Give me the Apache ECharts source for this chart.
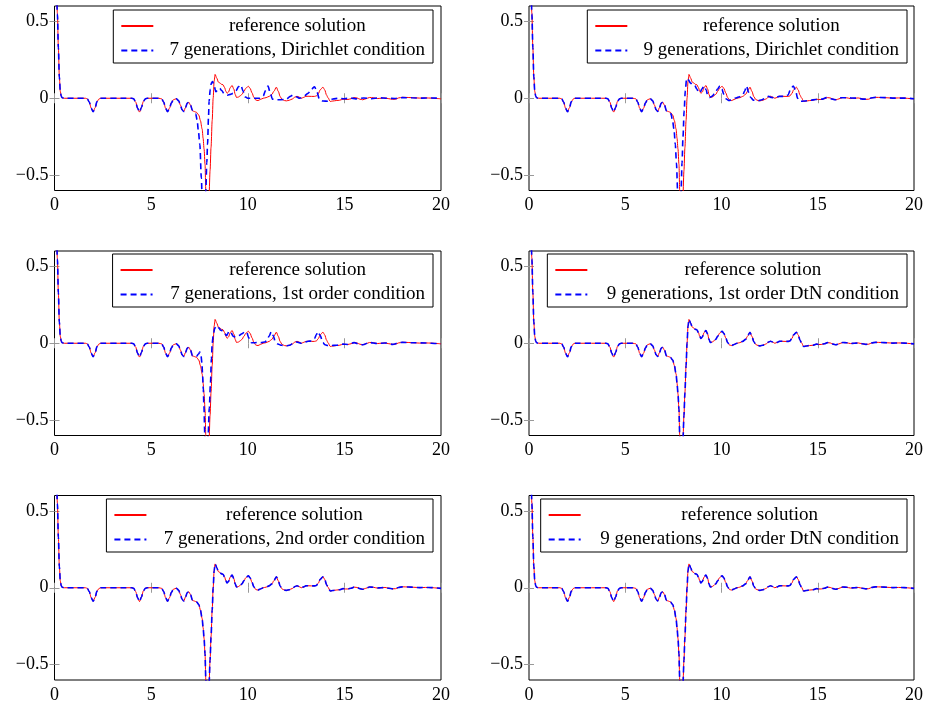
<!DOCTYPE html>
<html>
<head>
<meta charset="utf-8">
<script src="https://cdn.jsdelivr.net/npm/echarts@6/dist/echarts.min.js"></script>
<style>html,body{margin:0;padding:0;background:#fff}#c{width:926px;height:704px}</style>
</head>
<body>
<div id="c"></div>
<script>
// ---------- data ----------
const xTicks = [0, 5, 10, 15, 20];
const yTicks = [-0.5, 0, 0.5];

// shared part of all curves (x < 7)
const commonStart = [
  [0,1.2],[0.05,0.95],[0.1,0.72],[0.15,0.55],[0.2,0.33],[0.25,0.14],[0.3,0.045],[0.35,0.012],[0.4,0.003],[0.5,0],
  [1.0,0],[1.6,0],[1.7,-0.004],[1.8,-0.025],[1.9,-0.065],[2.0,-0.088],[2.1,-0.062],[2.2,-0.022],[2.3,-0.005],[2.4,0],
  [3.5,0],[4.0,0],[4.1,-0.004],[4.2,-0.025],[4.3,-0.065],[4.4,-0.09],[4.5,-0.06],[4.6,-0.02],[4.7,-0.004],[4.8,0],
  [5.4,0],[5.55,-0.004],[5.65,-0.025],[5.75,-0.065],[5.85,-0.088],[5.95,-0.065],[6.05,-0.03],[6.15,-0.01],[6.3,-0.003],
  [6.42,-0.015],[6.52,-0.045],[6.6,-0.075],[6.69,-0.086],[6.78,-0.06],[6.87,-0.032],[6.95,-0.026]
];

const referenceTail = [
  [7.04,-0.045],[7.14,-0.082],[7.25,-0.087],[7.35,-0.092],[7.47,-0.11],[7.55,-0.145],[7.64,-0.2],[7.69,-0.26],
  [7.74,-0.33],[7.79,-0.43],[7.83,-0.6],[7.88,-0.9],[7.93,-1.0],[7.97,-0.8],[8.0,-0.62],[8.05,-0.47],[8.1,-0.32],
  [8.16,-0.145],[8.21,0.0],[8.26,0.11],[8.31,0.155],[8.4,0.13],[8.48,0.105],[8.55,0.1],[8.65,0.09],[8.72,0.088],
  [8.8,0.07],[8.87,0.045],[8.93,0.032],[9.0,0.04],[9.1,0.07],[9.19,0.083],[9.28,0.06],[9.35,0.025],[9.42,0.005],
  [9.52,0.008],[9.6,0.015],[9.7,0.025],[9.8,0.045],[9.9,0.065],[10.03,0.078],[10.12,0.065],[10.22,0.035],
  [10.32,0.005],[10.42,-0.012],[10.53,-0.015],[10.65,-0.008],[10.8,0.0],[10.95,0.004],[11.1,0.012],[11.25,0.025],
  [11.35,0.045],[11.48,0.072],[11.58,0.045],[11.68,0.01],[11.78,-0.008],[11.9,-0.015],[12.0,-0.017],[12.15,-0.013],
  [12.3,-0.005],[12.45,0.008],[12.55,0.013],[12.65,0.008],[12.77,0.0],[12.9,0.006],[13.0,0.012],[13.12,0.013],
  [13.3,0.012],[13.45,0.012],[13.55,0.015],[13.65,0.03],[13.75,0.055],[13.89,0.072],[13.98,0.055],[14.08,0.02],
  [14.15,0.004],[14.27,-0.021],[14.4,-0.018],[14.58,-0.015],[14.75,-0.013],[14.93,-0.006],[15.05,-0.008],
  [15.18,-0.008],[15.35,-0.003],[15.5,0.004],[15.65,0.002],[15.8,-0.006],[15.95,-0.01],[16.1,-0.004],[16.3,0.005],
  [16.5,0.003],[16.7,-0.002],[16.9,0.0],[17.1,0.002],[17.3,-0.003],[17.5,-0.007],[17.65,-0.006],[17.8,0.002],
  [18.0,0.006],[18.3,0.005],[18.6,0.003],[18.9,0.001],[19.2,0.002],[19.5,0.001],[19.8,-0.002],[20,-0.004]
];

const gen7DirichletTail = [
  [7.04,-0.045],[7.14,-0.08],[7.22,-0.09],[7.3,-0.1],[7.38,-0.14],[7.45,-0.22],[7.52,-0.3],[7.6,-0.52],[7.65,-0.7],
  [7.7,-0.85],[7.76,-0.75],[7.83,-0.6],[7.88,-0.42],[7.92,-0.3],[7.97,-0.12],[8.0,-0.02],[8.06,0.06],[8.12,0.1],
  [8.18,0.108],[8.26,0.08],[8.35,0.043],[8.45,0.055],[8.55,0.065],[8.65,0.05],[8.78,0.03],[8.95,0.02],[9.1,0.025],
  [9.24,0.032],[9.4,0.05],[9.52,0.075],[9.64,0.086],[9.75,0.05],[9.85,0.01],[10.0,0.0],[10.27,0.0],[10.62,0.0],
  [10.8,0.015],[10.92,0.05],[11.05,0.08],[11.15,0.04],[11.28,-0.006],[11.45,-0.01],[11.65,-0.01],[12.0,-0.006],
  [12.2,0.012],[12.34,0.021],[12.5,0.01],[12.69,0.0],[12.9,0.012],[13.12,0.032],[13.3,0.06],[13.46,0.075],
  [13.58,0.04],[13.72,-0.01],[13.9,-0.018],[14.15,-0.02],[14.4,-0.005],[14.7,0.0],[15.0,-0.003],[15.3,0.002],
  [15.6,-0.004],[16.0,0.002],[16.4,-0.003],[16.8,0.003],[17.2,0.0],[17.6,-0.002],[18.0,0.004],[18.5,0.003],
  [19.0,0.001],[19.5,0.002],[20,0.0]
];

const gen9DirichletTail = [
  [7.04,-0.045],[7.14,-0.082],[7.25,-0.088],[7.37,-0.1],[7.45,-0.14],[7.53,-0.2],[7.6,-0.3],[7.66,-0.42],[7.72,-0.6],
  [7.8,-0.95],[7.86,-0.8],[7.9,-0.6],[7.95,-0.42],[8.0,-0.25],[8.06,-0.08],[8.12,0.05],[8.19,0.13],[8.28,0.12],
  [8.38,0.1],[8.48,0.09],[8.6,0.085],[8.72,0.06],[8.8,0.04],[8.88,0.035],[8.98,0.06],[9.1,0.08],[9.2,0.055],
  [9.28,0.02],[9.38,0.005],[9.5,0.012],[9.65,0.03],[9.8,0.06],[9.92,0.08],[10.02,0.06],[10.12,0.025],[10.25,-0.005],
  [10.4,-0.015],[10.55,-0.008],[10.75,0.002],[10.95,0.01],[11.1,0.02],[11.2,0.045],[11.3,0.08],[11.4,0.04],
  [11.52,0.005],[11.65,-0.012],[11.9,-0.016],[12.1,-0.01],[12.3,0.005],[12.45,0.012],[12.6,0.005],[12.75,0.003],
  [13.0,0.012],[13.3,0.012],[13.45,0.02],[13.6,0.06],[13.73,0.08],[13.85,0.05],[13.95,0.0],[14.1,-0.02],
  [14.3,-0.018],[14.6,-0.013],[14.9,-0.008],[15.2,-0.006],[15.45,0.004],[15.7,-0.004],[15.9,-0.01],[16.2,0.003],
  [16.5,0.003],[17.0,0.001],[17.4,-0.006],[17.7,0.0],[18.0,0.006],[18.5,0.004],[19.0,0.001],[19.5,0.001],[20,-0.003]
];

const gen7FirstOrderTail = [
  [7.04,-0.045],[7.14,-0.082],[7.25,-0.087],[7.35,-0.085],[7.45,-0.07],[7.52,-0.058],[7.58,-0.08],[7.63,-0.13],
  [7.66,-0.2],[7.7,-0.3],[7.73,-0.4],[7.78,-0.6],[7.85,-0.95],[7.9,-0.8],[7.95,-0.6],[8.01,-0.42],[8.07,-0.26],
  [8.12,-0.1],[8.16,0.0],[8.22,0.06],[8.3,0.1],[8.41,0.115],[8.5,0.1],[8.6,0.085],[8.69,0.082],[8.8,0.065],
  [8.9,0.05],[8.96,0.06],[9.02,0.078],[9.12,0.07],[9.25,0.045],[9.4,0.04],[9.55,0.05],[9.7,0.062],[9.85,0.075],
  [9.95,0.07],[10.05,0.035],[10.19,0.003],[10.35,0.003],[10.53,0.006],[10.7,0.004],[10.88,0.008],[11.0,0.02],
  [11.1,0.045],[11.22,0.075],[11.32,0.05],[11.42,0.012],[11.52,-0.003],[11.7,-0.012],[11.83,-0.015],[12.0,-0.016],
  [12.17,-0.013],[12.35,0.0],[12.52,0.008],[12.65,0.004],[12.77,0.0],[12.95,0.008],[13.12,0.013],[13.3,0.015],
  [13.45,0.03],[13.55,0.055],[13.63,0.075],[13.75,0.05],[13.89,0.003],[14.0,-0.01],[14.15,-0.015],[14.3,-0.015],
  [14.6,-0.013],[14.93,-0.006],[15.18,-0.008],[15.5,0.004],[15.8,-0.006],[15.95,-0.01],[16.3,0.005],[16.7,-0.002],
  [17.1,0.002],[17.5,-0.007],[17.8,0.002],[18.0,0.006],[18.6,0.003],[19.2,0.002],[19.8,-0.002],[20,-0.004]
];

const reference = commonStart.concat(referenceTail);
const gen7Dirichlet = commonStart.concat(gen7DirichletTail);
const gen9Dirichlet = commonStart.concat(gen9DirichletTail);
const gen7FirstOrder = commonStart.concat(gen7FirstOrderTail);
// these three coincide with the reference curve in the picture
const gen9FirstOrderDtN = commonStart.concat(referenceTail);
const gen7SecondOrder = commonStart.concat(referenceTail);
const gen9SecondOrderDtN = commonStart.concat(referenceTail);

const refName = 'reference solution';
const panelNames = [
  '7 generations, Dirichlet condition',
  '9 generations, Dirichlet condition',
  '7 generations, 1st order condition',
  '9 generations, 1st order DtN condition',
  '7 generations, 2nd order condition',
  '9 generations, 2nd order DtN condition'
];
const panelData = [gen7Dirichlet, gen9Dirichlet, gen7FirstOrder, gen9FirstOrderDtN, gen7SecondOrder, gen9SecondOrderDtN];

// ---------- layout ----------
const FONT = 'Liberation Serif';
const FS = 18;
const LFS = 19;
const colLeft = [54.5, 529];
const rowTop = [6, 251, 495.5];
const gw = 386.5, gh = 184.5;
const legendRight = [493, 19];
const legendTop = [10, 254, 499];
const legendTextW = [278, 278, 280, 321, 286, 328];

const fmt = v => v === 0 ? '0' : (v < 0 ? '\u2212' + Math.abs(v) : String(v));

const grid = [], xAxis = [], yAxis = [], series = [], legend = [];
for (let i = 0; i < 6; i++) {
  const r = Math.floor(i / 2), c = i % 2;
  grid.push({left: colLeft[c], top: rowTop[r], width: gw, height: gh, show: true,
             borderColor: '#000', borderWidth: 1, backgroundColor: 'transparent'});
  const tick = {inside: true, length: 5, lineStyle: {color: '#999', width: 1}};
  xAxis.push({type: 'value', gridIndex: i, min: 0, max: 20, interval: 5, position: 'bottom',
    axisLine: {show: false}, splitLine: {show: false},
    axisTick: Object.assign({}, tick, {customValues: xTicks}),
    axisLabel: {customValues: xTicks, formatter: fmt, color: '#000', fontFamily: FONT, fontSize: FS, margin: 6}});
  xAxis.push({type: 'value', gridIndex: i, min: 0, max: 20, interval: 5, position: 'top',
    axisLine: {show: false}, splitLine: {show: false},
    axisTick: Object.assign({}, tick, {customValues: xTicks}), axisLabel: {show: false}});
  yAxis.push({type: 'value', gridIndex: i, min: -0.6, max: 0.6, position: 'left',
    axisLine: {show: false}, splitLine: {show: false},
    axisTick: Object.assign({}, tick, {customValues: yTicks}),
    axisLabel: {customValues: yTicks, formatter: fmt, color: '#000', fontFamily: FONT, fontSize: FS, margin: 6}});
  yAxis.push({type: 'value', gridIndex: i, min: -0.6, max: 0.6, position: 'right',
    axisLine: {show: false}, splitLine: {show: false},
    axisTick: Object.assign({}, tick, {customValues: yTicks}), axisLabel: {show: false}});

  series.push({type: 'line', name: refName, xAxisIndex: 2 * i, yAxisIndex: 2 * i, data: reference,
    symbol: 'none', smooth: 0.3, smoothMonotone: 'x', clip: true, silent: true, animation: false,
    lineStyle: {color: '#ff0000', width: 1}, itemStyle: {color: '#ff0000'}, z: 2});
  series.push({type: 'line', name: panelNames[i], xAxisIndex: 2 * i, yAxisIndex: 2 * i, data: panelData[i],
    symbol: 'none', smooth: 0.3, smoothMonotone: 'x', clip: true, silent: true, animation: false,
    lineStyle: {color: '#0000ff', width: 1.6, type: [6, 4]}, itemStyle: {color: '#0000ff'}, z: 3});

  legend.push({data: [refName, panelNames[i]], orient: 'vertical', right: legendRight[c], top: legendTop[r],
    backgroundColor: '#fff', borderColor: '#000', borderWidth: 1, borderRadius: 0,
    padding: [6.5, 8, 3, 7], itemGap: 5.5, itemWidth: 32, itemHeight: 14,
    selectedMode: false, inactiveColor: '#000',
    itemStyle: {opacity: 0},
    formatter: n => '{c|' + n + '}',
    textStyle: {color: '#000', fontFamily: FONT, fontSize: LFS,
      rich: {c: {width: legendTextW[i], align: 'center', fontFamily: FONT, fontSize: LFS, color: '#000'}}}});
}

const chart = echarts.init(document.getElementById('c'), null, {renderer: 'canvas'});
chart.setOption({animation: false, backgroundColor: '#fff', grid, xAxis, yAxis, series, legend});
</script>
</body>
</html>
